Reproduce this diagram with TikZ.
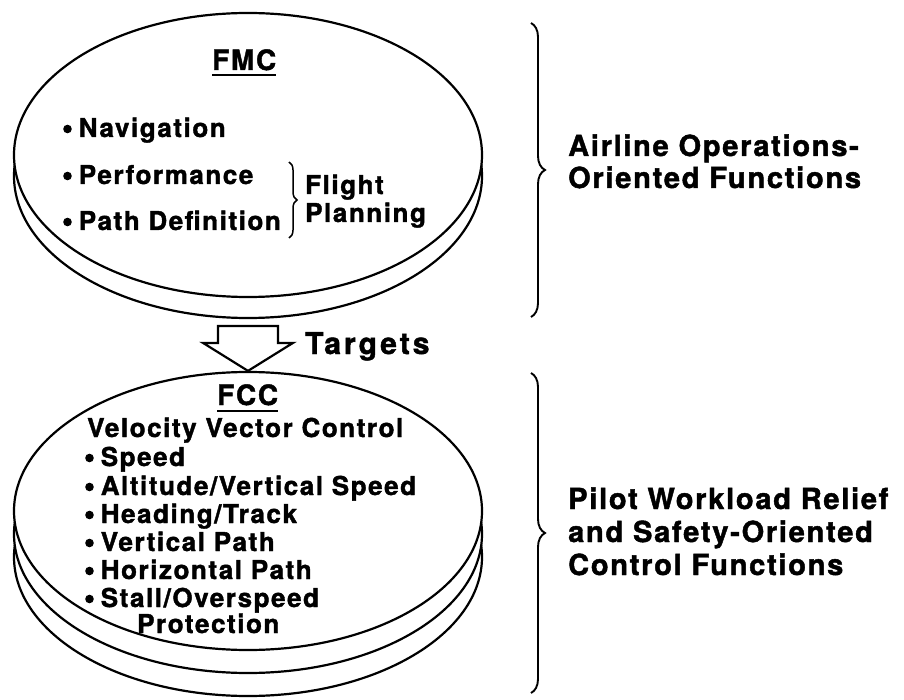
\documentclass[tikz,border=0pt]{standalone}
\usepackage{fontspec}
\setmainfont{TeX Gyre Heros}
\newfontfamily\hvb{TeX Gyre Heros}[LetterSpace=6, BoldFeatures={FakeBold=1.5}]
\newfontfamily\hvw{TeX Gyre Heros}[LetterSpace=10, BoldFeatures={FakeBold=1.5}]
\newcommand\bodyfont{\hvb\bfseries\fontsize{26}{28}\selectfont}
\newcommand\headfont{\hvb\bfseries\fontsize{28}{30}\selectfont}
\newcommand\sidefont{\hvb\bfseries\fontsize{29}{33}\selectfont}
\newcommand\arrowfont{\hvw\bfseries\fontsize{30}{33}\selectfont}
% round list marker
\newcommand\blt{\tikz[baseline=0pt]\fill (0pt,8pt) circle[radius=4.3pt];\kern7pt}
\usetikzlibrary{shapes.geometric,decorations.pathreplacing,calc}

\tikzset{
  disk/.style={ellipse, draw, fill=white, line width=2.2pt,
    minimum width=468pt, inner sep=0pt},
  line/.style={anchor=base west, inner sep=0pt, font=\bodyfont},
  title/.style={anchor=base west, inner sep=0pt, font=\headfont},
  side/.style={anchor=base west, inner sep=0pt, font=\sidefont},
  bigbrace/.style={decorate, decoration={brace, amplitude=14pt}, line width=1.9pt},
  smallbrace/.style={decorate, decoration={brace, amplitude=8pt}, line width=1.5pt},
  blockarrow/.style={draw, fill=white, line width=2.2pt, line join=miter},
}

\begin{document}
\begin{tikzpicture}[x=1pt, y=-1pt]
\useasboundingbox (0,0) rectangle (904,700);

% upper unit: FMC, a two-layer disk
\node[disk, minimum height=284pt] (fmcrim) at (248,176) {};
\node[disk, minimum height=284pt] (fmc) at (248,155) {};

\node[title] (fmctitle) at (212,70) {FMC};
\draw[line width=1.8pt] ([yshift=-5pt]fmctitle.base west) -- ([yshift=-5pt]fmctitle.base east);
\node[line] (nav) at (63,137) {\blt Navigation};
\node[line] (perf) at (63,184) {\blt Performance};
\node[line] (path) at (63,230) {\blt Path Definition};
\coordinate (fpt) at (289,162);
\coordinate (fpb) at (289,238);
\draw[smallbrace] (fpt) -- (fpb);
\node[line] (flight) at (305,194) {Flight};
\node[line] (planning) at (305,222) {Planning};

% lower unit: FCC, a three-layer disk
\node[disk, minimum height=278pt] (fccrimb) at (248,557) {};
\node[disk, minimum height=278pt] (fccrima) at (248,534) {};
\node[disk, minimum height=278pt] (fcc) at (248,511) {};

\node[title] (fcctitle) at (217,405) {FCC};
\draw[line width=1.8pt] ([yshift=-6pt]fcctitle.base west) -- ([yshift=-6pt]fcctitle.base east);
\node[line] (vvc) at (87,437) {Velocity Vector Control};
\node[line] (spd) at (85,466) {\blt Speed};
\node[line] (alt) at (85,495) {\blt Altitude/Vertical Speed};
\node[line] (hdg) at (85,523) {\blt Heading/Track};
\node[line] (vpath) at (85,551) {\blt Vertical Path};
\node[line] (hpath) at (85,579) {\blt Horizontal Path};
\node[line] (stall) at (85,607) {\blt Stall/Overspeed};
\node[line] (prot) at (137,633) {Protection};

% block arrow from FMC down to FCC
\coordinate (tip) at (fcc.north);
\draw[blockarrow] ($(tip)+(-30,-45)$) -- ($(tip)+(-30,-28)$) -- ($(tip)+(-45,-28)$)
  -- (tip) -- ($(tip)+(45,-28)$) -- ($(tip)+(30,-28)$) -- ($(tip)+(30,-45)$) -- cycle;
\node[title, font=\arrowfont] (targets) at (305,354) {Targets};

% right-hand braces and their labels
\coordinate (bat) at (531,23);
\coordinate (bab) at (531,317);
\draw[bigbrace] (bat) -- (bab);
\node[side] (aol1) at (568,156) {Airline Operations-};
\node[side] (aol2) at (568,188) {Oriented Functions};

\coordinate (bbt) at (531,373);
\coordinate (bbb) at (531,693);
\draw[bigbrace] (bbt) -- (bbb);
\node[side] (pwl1) at (568,509) {Pilot Workload Relief};
\node[side] (pwl2) at (568,542) {and Safety-Oriented};
\node[side] (pwl3) at (568,575) {Control Functions};
\end{tikzpicture}
\end{document}
